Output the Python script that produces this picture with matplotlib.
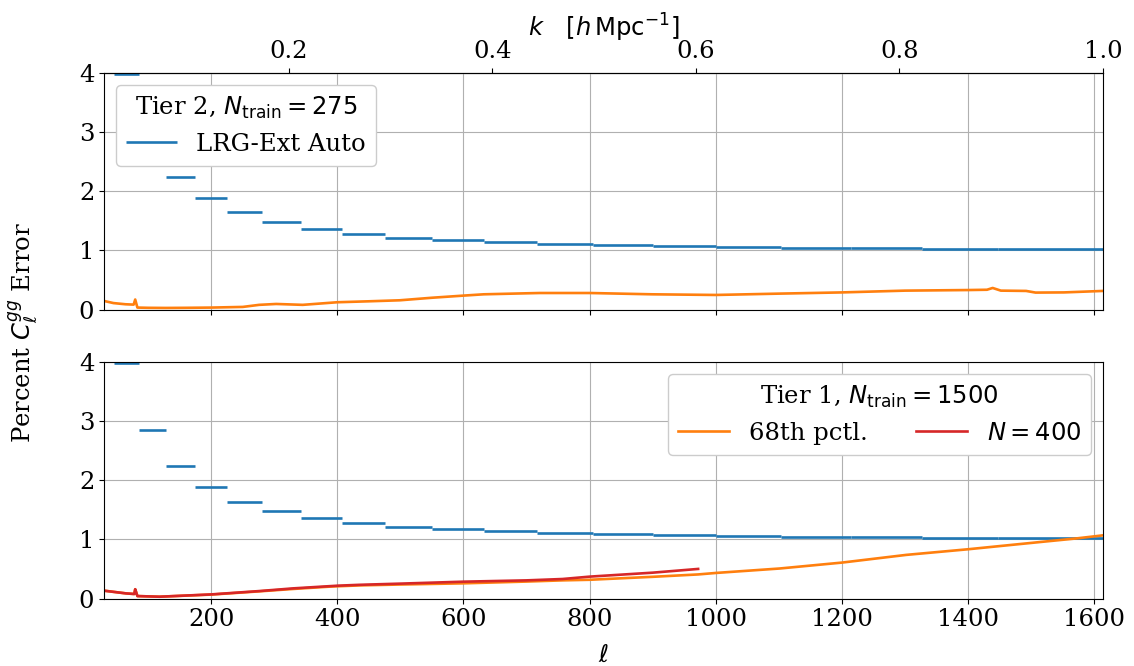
import numpy as np
import matplotlib.pyplot as plt

# binned LRG-Ext auto error (blue), edges in ell
bin_edges = [46, 85, 128, 174, 225, 280, 342, 407, 476, 550, 632, 717,
             805, 901, 1000, 1103, 1214, 1327, 1447, 1620]
bin_err = [3.98, 2.85, 2.245, 1.89, 1.64, 1.486, 1.36, 1.277, 1.21, 1.18,
           1.146, 1.11, 1.09, 1.07, 1.056, 1.045, 1.034, 1.028, 1.022]

# Tier 2, 68th percentile emulator error
ell_t2 = [30, 45, 64, 77, 79.5, 83, 100, 128, 160, 200, 250, 276, 303, 345,
          400, 450, 499, 550, 600, 632, 700, 721, 800, 899, 1000, 1103, 1200,
          1300, 1400, 1430, 1439, 1452, 1492, 1507, 1552, 1614]
err_t2 = [0.146, 0.11, 0.09, 0.084, 0.17, 0.034, 0.03, 0.028, 0.03, 0.034,
          0.045, 0.08, 0.095, 0.08, 0.124, 0.14, 0.157, 0.2, 0.236, 0.258,
          0.275, 0.28, 0.28, 0.258, 0.247, 0.27, 0.29, 0.32, 0.33, 0.335,
          0.365, 0.32, 0.315, 0.287, 0.29, 0.315]

# Tier 1, 68th percentile
ell_t1 = [30, 65, 78, 79.5, 83, 118, 200, 277, 330, 389, 435, 500, 600, 700,
          757, 800, 900, 972, 1000, 1101, 1200, 1302, 1400, 1442, 1517, 1571,
          1614]
err_t1 = [0.136, 0.09, 0.08, 0.16, 0.045, 0.034, 0.07, 0.125, 0.165, 0.205,
          0.225, 0.24, 0.26, 0.29, 0.31, 0.32, 0.37, 0.41, 0.435, 0.51, 0.61,
          0.74, 0.835, 0.88, 0.96, 1.017, 1.07]

# Tier 1, N = 400 test set
ell_n400 = [30, 65, 78, 79.5, 83, 118, 200, 277, 330, 400, 435, 500, 600, 700,
            757, 800, 900, 972]
err_n400 = [0.136, 0.09, 0.08, 0.16, 0.045, 0.034, 0.073, 0.13, 0.175, 0.22,
            0.235, 0.255, 0.288, 0.31, 0.333, 0.373, 0.44, 0.503]

chi = 1614.0
ell_min, ell_max = 30, 1614

fs = 17.5
plt.rcParams["font.family"] = "serif"
plt.rcParams["font.size"] = fs
plt.rcParams["xtick.labelsize"] = fs
plt.rcParams["ytick.labelsize"] = fs

fig, (ax1, ax2) = plt.subplots(2, 1, figsize=(11.34, 6.66), dpi=100, sharex=True)
fig.subplots_adjust(left=0.0917, right=0.9727, top=0.891, bottom=0.101, hspace=0.22)

lw = 1.9
for ax in (ax1, ax2):
    ax.hlines(bin_err, bin_edges[:-1], bin_edges[1:], color="tab:blue", lw=lw,
              label="LRG-Ext Auto")
    ax.grid(True)
    ax.set_ylim(0, 4)
    ax.set_yticks([0, 1, 2, 3, 4])
    ax.set_xlim(ell_min, ell_max)

ax1.plot(ell_t2, err_t2, color="tab:orange", lw=lw)
ax2.plot(ell_t1, err_t1, color="tab:orange", lw=lw, label="68th pctl.")
ax2.plot(ell_n400, err_n400, color="tab:red", lw=lw, label=r"$N=400$")

h, l = ax1.get_legend_handles_labels()
ax1.legend(h[:1], l[:1], loc="upper left", title=r"Tier 2, $N_{\rm train}=275$",
           fontsize=fs, title_fontsize=fs, framealpha=1, handlelength=2.1)
h, l = ax2.get_legend_handles_labels()
ax2.legend(h[1:], l[1:], loc="upper right", ncol=2,
           title=r"Tier 1, $N_{\rm train}=1500$",
           fontsize=fs, title_fontsize=fs, framealpha=1, handlelength=2.1)

sec = ax1.secondary_xaxis("top", functions=(lambda x: x / chi, lambda k: k * chi))
sec.set_xticks([0.2, 0.4, 0.6, 0.8, 1.0])
sec.set_xlabel(r"$k\quad[h\,\mathrm{Mpc}^{-1}]$", fontsize=fs, labelpad=2)

ax2.set_xlabel(r"$\ell$", fontsize=fs, labelpad=9)
fig.text(0.02, 0.5, r"Percent $C_\ell^{gg}$ Error", rotation=90,
         va="center", ha="center", fontsize=fs)

fig.savefig("out.png")
